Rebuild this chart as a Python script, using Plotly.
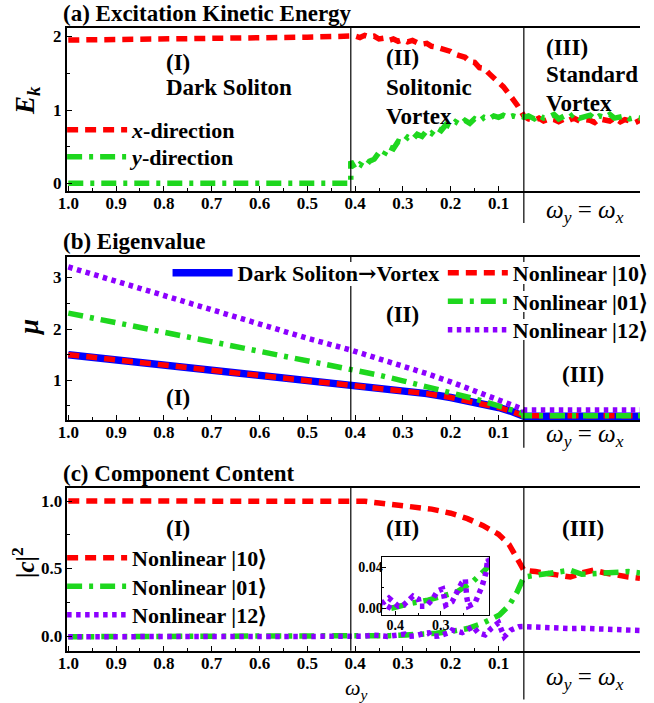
import plotly.graph_objects as go

# ---------------- data ----------------
# common x-axis (omega_y), region I/II boundary and II/III boundary
OMEGA_I_II = 0.409
OMEGA_II_III = 0.047
X_TICKS = [1.0, 0.9, 0.8, 0.7, 0.6, 0.5, 0.4, 0.3, 0.2, 0.1]
X_TICK_TEXT = ["1.0", "0.9", "0.8", "0.7", "0.6", "0.5", "0.4", "0.3", "0.2", "0.1"]
X_MINOR = [0.95, 0.85, 0.75, 0.65, 0.55, 0.45, 0.35, 0.25, 0.15]

# y ticks per panel
YA_TICKS, YA_TEXT, YA_MINOR = [0, 1, 2], ["0", "1", "2"], [0.5, 1.5]
YB_TICKS, YB_TEXT, YB_MINOR = [1, 2, 3], ["1", "2", "3"], [0.5, 1.5, 2.5]
YC_TICKS, YC_TEXT, YC_MINOR = [0, 0.5, 1.0], ["0.0", "0.5", "1.0"], [0.25, 0.75]

# (a) Excitation kinetic energy
a_w_I = [1.0, 0.9, 0.8, 0.7, 0.6, 0.5, 0.409]
a_x_I = [1.955, 1.96, 1.965, 1.975, 1.985, 1.995, 2.01]
a_y_I = [0, 0, 0, 0, 0, 0, 0]
a_w_II = [0.409, 0.40, 0.39, 0.38, 0.37, 0.36, 0.35, 0.34, 0.33, 0.32, 0.31, 0.30,
          0.29, 0.28, 0.27, 0.26, 0.25, 0.24, 0.23, 0.22, 0.21, 0.20, 0.19, 0.18,
          0.17, 0.16, 0.15, 0.14, 0.13, 0.12, 0.11, 0.10, 0.09, 0.08, 0.07, 0.06, 0.05]
a_x_II = [2.01, 2.01, 1.99, 2.02, 2.00, 2.01, 1.97, 1.98, 1.95, 1.97, 1.94, 1.96,
          1.93, 1.95, 1.92, 1.90, 1.91, 1.87, 1.86, 1.84, 1.81, 1.80, 1.76, 1.74,
          1.72, 1.66, 1.65, 1.58, 1.57, 1.50, 1.45, 1.38, 1.32, 1.22, 1.15, 1.06, 0.97]
a_y_II = [0.30, 0.20, 0.26, 0.22, 0.30, 0.33, 0.42, 0.38, 0.50, 0.47, 0.57, 0.55,
          0.63, 0.60, 0.67, 0.64, 0.72, 0.68, 0.76, 0.72, 0.80, 0.77, 0.84, 0.80,
          0.86, 0.82, 0.88, 0.85, 0.90, 0.88, 0.92, 0.90, 0.93, 0.90, 0.92, 0.90, 0.91]
# region III: fraction across the omega_y = omega_x strip
a_t_III = [0.0, 0.04, 0.09, 0.13, 0.17, 0.22, 0.26, 0.30, 0.35, 0.39, 0.43, 0.48,
           0.52, 0.57, 0.61, 0.65, 0.70, 0.74, 0.78, 0.83, 0.87, 0.91, 0.96, 1.0]
a_x_III = [0.92, 0.88, 0.86, 0.89, 0.85, 0.88, 0.87, 0.84, 0.88, 0.86, 0.89, 0.85,
           0.87, 0.86, 0.83, 0.88, 0.86, 0.85, 0.89, 0.84, 0.87, 0.86, 0.83, 0.86]
a_y_III = [0.90, 0.92, 0.88, 0.93, 0.89, 0.91, 0.94, 0.88, 0.92, 0.90, 0.95, 0.89,
           0.91, 0.93, 0.88, 0.92, 0.90, 0.94, 0.89, 0.91, 0.92, 0.88, 0.90, 0.89]

# (b) Eigenvalue
b_w = [1.0, 0.9, 0.8, 0.7, 0.6, 0.5, 0.409, 0.35, 0.3, 0.25, 0.2, 0.15, 0.1, 0.075, 0.047]
b_dark = [1.50, 1.40, 1.31, 1.21, 1.11, 1.01, 0.92, 0.85, 0.80, 0.74, 0.665, 0.58, 0.47, 0.40, 0.30]
b_n10 = [1.50, 1.40, 1.31, 1.21, 1.11, 1.01, 0.92, 0.85, 0.80, 0.74, 0.665, 0.58, 0.47, 0.40, 0.31]
b_n01 = [2.31, 2.125, 1.94, 1.755, 1.57, 1.385, 1.22, 1.10, 0.99, 0.88, 0.76, 0.64, 0.50, 0.43, 0.35]
b_n12 = [3.21, 2.93, 2.66, 2.38, 2.10, 1.82, 1.59, 1.42, 1.29, 1.13, 0.97, 0.80, 0.61, 0.52, 0.43]
b_t_III = [0.0, 1.0]
b_dark_III = [0.30, 0.30]
b_n10_III = [0.31, 0.31]
b_n01_III = [0.31, 0.31]
b_n12_III = [0.42, 0.42]

# (c) Component content
c_w_I = [1.0, 0.7, 0.409]
c_n10_I = [1.0, 1.0, 1.0]
c_n01_I = [0.0, 0.0, 0.0]
c_n12_I = [0.0, 0.0, 0.0]
c_w10_II = [0.409, 0.38, 0.35, 0.30, 0.28, 0.24, 0.20, 0.165, 0.133, 0.10, 0.078, 0.061, 0.047]
c_n10_II = [1.0, 0.998, 0.985, 0.965, 0.958, 0.94, 0.91, 0.87, 0.82, 0.755, 0.68, 0.58, 0.49]
c_w01_II = [0.409, 0.392, 0.364, 0.328, 0.293, 0.265, 0.23, 0.20, 0.165, 0.133, 0.098, 0.078, 0.061, 0.047]
c_n01_II = [0.0, 0.002, 0.005, 0.008, 0.013, 0.016, 0.026, 0.039, 0.06, 0.10, 0.16, 0.23, 0.33, 0.44]
c_w12_II = [0.409, 0.4285, 0.414, 0.393, 0.382, 0.361, 0.349, 0.346, 0.332, 0.318, 0.307,
            0.296, 0.289, 0.275, 0.254, 0.246, 0.243, 0.239, 0.225, 0.218, 0.209, 0.200,
            0.197, 0.176, 0.153, 0.143, 0.128, 0.115, 0.100, 0.088, 0.074, 0.057, 0.047]
c_n12_II = [0.0, 0.005, 0.010, 0.002, 0.003, 0.012, 0.009, 0.002, 0.002, 0.009, 0.017,
            0.019, 0.003, 0.0065, 0.025, 0.0285, 0.011, 0.002, 0.005, 0.013, 0.022, 0.036,
            0.049, 0.030, 0.074, 0.030, 0.013, 0.062, 0.103, 0.0, 0.049, 0.074, 0.075]
c_t_III = [0.0, 0.1, 0.2, 0.3, 0.4, 0.5, 0.6, 0.7, 0.8, 0.9, 1.0]
c_n10_III = [0.49, 0.48, 0.465, 0.45, 0.44, 0.47, 0.49, 0.47, 0.45, 0.44, 0.43]
c_n01_III = [0.44, 0.45, 0.46, 0.48, 0.49, 0.46, 0.465, 0.47, 0.48, 0.48, 0.47]
c_n12_III = [0.074, 0.070, 0.072, 0.065, 0.060, 0.062, 0.058, 0.055, 0.050, 0.052, 0.046]

# ---------------- layout constants ----------------
W, H = 654, 703
ML = 67
PW = W - ML
X_LEFT, X_RIGHT = 1.0027, -0.196
FONT = "Liberation Serif"
RED = "rgb(255,0,0)"
GREEN = "rgb(30,215,30)"
PURPLE = "rgb(140,0,255)"
BLUE = "rgb(0,0,255)"
DASH_R = "11px,7px"
DASH_G = "15px,7px,4px,7px"
DASH_P = "4.5px,4.5px"
LW = 5.5


def px_x(px):
    return (px - ML) / PW


def px_y(py):
    return 1 - py / H


def III(ts):
    return [OMEGA_II_III - t * (OMEGA_II_III - X_RIGHT) for t in ts]


fig = go.Figure()


def add(xs, ys, color, dash, width, name, xa, ya, legend=None, show=False):
    fig.add_trace(go.Scatter(
        x=xs, y=ys, mode="lines", name=name,
        line=dict(color=color, dash=dash, width=width),
        xaxis=xa, yaxis=ya, showlegend=show, legend=legend, hoverinfo="skip"))


ARROW = "<span style='font-family:DejaVu Serif'>→</span>"

# (a)
add(a_w_I + a_w_II + III(a_t_III), a_x_I + a_x_II + a_x_III, RED, DASH_R, LW,
    "<i>x</i>-direction", "x", "y", "legend", True)
add(a_w_I + a_w_II + III(a_t_III), a_y_I + a_y_II + a_y_III, GREEN, DASH_G, LW,
    "<i>y</i>-direction", "x", "y", "legend2", True)

# (b)
add(b_w + III(b_t_III), b_dark + b_dark_III, BLUE, "solid", 7.5,
    "Dark Soliton" + ARROW + "Vortex", "x2", "y2", "legend3", True)
add(b_w + III(b_t_III), b_n10 + b_n10_III, RED, DASH_R, LW,
    "Nonlinear |10⟩", "x2", "y2", "legend4", True)
add(b_w + III(b_t_III), b_n01 + b_n01_III, GREEN, DASH_G, LW,
    "Nonlinear |01⟩", "x2", "y2", "legend5", True)
add(b_w + III(b_t_III), b_n12 + b_n12_III, PURPLE, DASH_P, LW,
    "Nonlinear |12⟩", "x2", "y2", "legend6", True)

# (c)
add(c_w_I + c_w10_II + III(c_t_III), c_n10_I + c_n10_II + c_n10_III, RED, DASH_R, LW,
    "Nonlinear |10⟩", "x3", "y3", "legend7", True)
add(c_w_I + c_w01_II + III(c_t_III), c_n01_I + c_n01_II + c_n01_III, GREEN, DASH_G, LW,
    "Nonlinear |01⟩", "x3", "y3", "legend8", True)
add(c_w_I + c_w12_II + III(c_t_III), c_n12_I + c_n12_II + c_n12_III, PURPLE, DASH_P, LW,
    "Nonlinear |12⟩", "x3", "y3", "legend9", True)

# inset of (c)
add(c_w01_II, c_n01_II, GREEN, DASH_G, LW, "", "x4", "y4")
add(c_w12_II, c_n12_II, PURPLE, DASH_P, LW, "", "x4", "y4")

tickfont = dict(family=FONT, size=17, color="black", weight="bold")


def xaxis(anchor):
    return dict(range=[X_LEFT, X_RIGHT], domain=[0, 1], anchor=anchor,
                tickmode="array", tickvals=X_TICKS, ticktext=X_TICK_TEXT,
                ticks="inside", ticklen=5, tickwidth=1.2, tickcolor="black",
                minor=dict(tickvals=X_MINOR, ticks="inside", ticklen=3,
                           tickwidth=1, tickcolor="black"),
                showline=True, linecolor="black", linewidth=1.5, mirror=True,
                showgrid=False, zeroline=False, tickfont=tickfont,
                ticklabelstandoff=-4)


def yaxis(anchor, rng, dom, tv, minor):
    return dict(range=rng, domain=dom, anchor=anchor,
                tickmode="array", tickvals=tv, showticklabels=False,
                ticks="inside", ticklen=5, tickwidth=1.2, tickcolor="black",
                minor=dict(tickvals=minor, ticks="inside", ticklen=3,
                           tickwidth=1, tickcolor="black"),
                showline=True, linecolor="black", linewidth=1.5, mirror=False,
                showgrid=False, zeroline=False)


dom_a = [px_y(191), px_y(28)]
dom_b = [px_y(420), px_y(256.7)]
dom_c = [px_y(650.7), px_y(487.7)]

legfont = dict(family=FONT, size=22, color="black", weight="bold")


def leg(px, py):
    return dict(x=px_x(px), y=px_y(py), xanchor="left", yanchor="middle",
                bgcolor="rgba(0,0,0,0)", font=legfont, itemwidth=60, borderwidth=0)


fig.update_layout(
    width=W, height=H, margin=dict(l=ML, r=0, t=0, b=0),
    paper_bgcolor="white", plot_bgcolor="rgba(0,0,0,0)",
    xaxis=xaxis("y"), xaxis2=xaxis("y2"), xaxis3=xaxis("y3"),
    yaxis=yaxis("x", [-0.105, 2.12], dom_a, YA_TICKS, YA_MINOR),
    yaxis2=yaxis("x2", [0.226, 3.41], dom_b, YB_TICKS, YB_MINOR),
    yaxis3=yaxis("x3", [-0.103, 1.098], dom_c, YC_TICKS, YC_MINOR),
    xaxis4=dict(range=[0.43, 0.194], domain=[px_x(389.3), px_x(499.3)], anchor="y4",
                tickmode="array", tickvals=[0.4, 0.3], ticktext=["0.4", "0.3"],
                ticks="inside", ticklen=4, tickcolor="black",
                minor=dict(tickvals=[0.35, 0.25], ticks="inside", ticklen=2, tickcolor="black"),
                showline=True, linecolor="black", linewidth=1.2, mirror=True,
                showgrid=False, zeroline=False, ticklabelstandoff=-3,
                tickfont=dict(family=FONT, size=14, color="black", weight="bold")),
    yaxis4=dict(range=[-0.0066, 0.0507], domain=[px_y(615), px_y(556.7)], anchor="x4",
                tickmode="array", tickvals=[0.0, 0.04], ticktext=["0.00", "0.04"],
                ticks="inside", ticklen=4, tickcolor="black",
                minor=dict(tickvals=[0.02], ticks="inside", ticklen=2, tickcolor="black"),
                showline=True, linecolor="black", linewidth=1.2, mirror=True,
                showgrid=False, zeroline=False, ticklabelstandoff=-5,
                tickfont=dict(family=FONT, size=14, color="black", weight="bold")),
    legend=leg(62, 130), legend2=leg(62, 157),
    legend3=leg(170, 273),
    legend4=leg(452, 273), legend5=leg(452, 301.5), legend6=leg(452, 330),
    legend7=leg(62, 558), legend8=leg(62, 586.5), legend9=leg(62, 615),
)

# region dividers (broken where panel (b) legend text crosses them)
LINE = dict(color="black", width=1.2)


def vline(xr, yr, xv, y0, y1):
    return dict(type="line", xref=xr, yref=yr + " domain", x0=xv, x1=xv,
                y0=y0, y1=y1, line=LINE, layer="above")


def dom_frac(py, top, bottom):
    return (bottom - py) / (bottom - top)


shapes = [
    vline("x", "y", OMEGA_I_II, 0, 1),
    vline("x", "y", OMEGA_II_III, -0.196, 1),
    vline("x3", "y3", OMEGA_I_II, 0, 1),
    vline("x3", "y3", OMEGA_II_III, -0.30, 1),
    # panel (b)
    vline("x2", "y2", OMEGA_I_II, 0, dom_frac(286, 256.7, 420)),
    vline("x2", "y2", OMEGA_I_II, dom_frac(262, 256.7, 420), 1),
    vline("x2", "y2", OMEGA_II_III, -0.17, dom_frac(340, 256.7, 420)),
    vline("x2", "y2", OMEGA_II_III, dom_frac(319, 256.7, 420), dom_frac(312, 256.7, 420)),
    vline("x2", "y2", OMEGA_II_III, dom_frac(291, 256.7, 420), dom_frac(284, 256.7, 420)),
    vline("x2", "y2", OMEGA_II_III, dom_frac(262, 256.7, 420), 1),
]
fig.update_layout(shapes=shapes)

ann = []


def text(px, py, s, size=22, anchor="left", bold=True, italic=False, angle=0):
    ann.append(dict(x=px_x(px), y=px_y(py), xref="paper", yref="paper", text=s,
                    showarrow=False, xanchor=anchor, yanchor="middle", textangle=angle,
                    font=dict(family=FONT, size=size, color="black",
                              weight="bold" if bold else "normal",
                              style="italic" if italic else "normal")))


# y tick labels, placed on the data scale of each panel
for yref, vals, labels in [("y", YA_TICKS, YA_TEXT), ("y2", YB_TICKS, YB_TEXT),
                           ("y3", YC_TICKS, YC_TEXT)]:
    for v, s in zip(vals, labels):
        ann.append(dict(x=px_x(64), y=v, xref="paper", yref=yref, text=s,
                        showarrow=False, xanchor="right", yanchor="middle",
                        font=tickfont))

# titles
text(61, 13, "(a) Excitation Kinetic Energy", 23)
text(61, 241, "(b) Eigenvalue", 23)
text(61, 473, "(c) Component Content", 23)
# region labels (a)
text(166, 62, "(I)", 23)
text(166, 87, "Dark Soliton", 23)
text(392, 57, "(II)", 23)
text(392, 87, "Solitonic", 23)
text(392, 117, "Vortex", 23)
text(556, 47, "(III)", 23)
text(556, 74, "Standard", 23)
text(556, 103, "Vortex", 23)
# region labels (b)
text(181, 397, "(I)", 23, anchor="center")
text(411, 314, "(II)", 23, anchor="center")
text(596, 375, "(III)", 23, anchor="center")
# region labels (c)
text(181, 528, "(I)", 23, anchor="center")
text(411, 528, "(II)", 23, anchor="center")
text(596, 528, "(III)", 23, anchor="center")
# omega_y = omega_x labels
OMEQ = "<i>ω</i><sub><i>y</i></sub> = <i>ω</i><sub><i>x</i></sub>"
text(598, 212, OMEQ, 25, anchor="center", bold=False)
text(598, 435, OMEQ, 25, anchor="center", bold=False)
text(598, 678, OMEQ, 25, anchor="center", bold=False)
# x-axis title
text(364, 689, "<i>ω</i><sub><i>y</i></sub>", 22, anchor="center", bold=False)
# y-axis titles
text(26, 100, "<i>E</i><sub><i>k</i></sub>", 27, anchor="center", angle=-90)
text(28, 327, "<i>μ</i>", 27, anchor="center", angle=-90)
text(22, 563, "|<i>c</i>|<sup>2</sup>", 25, anchor="center", angle=-90)

fig.update_layout(annotations=ann)
fig.write_html("out.html")
